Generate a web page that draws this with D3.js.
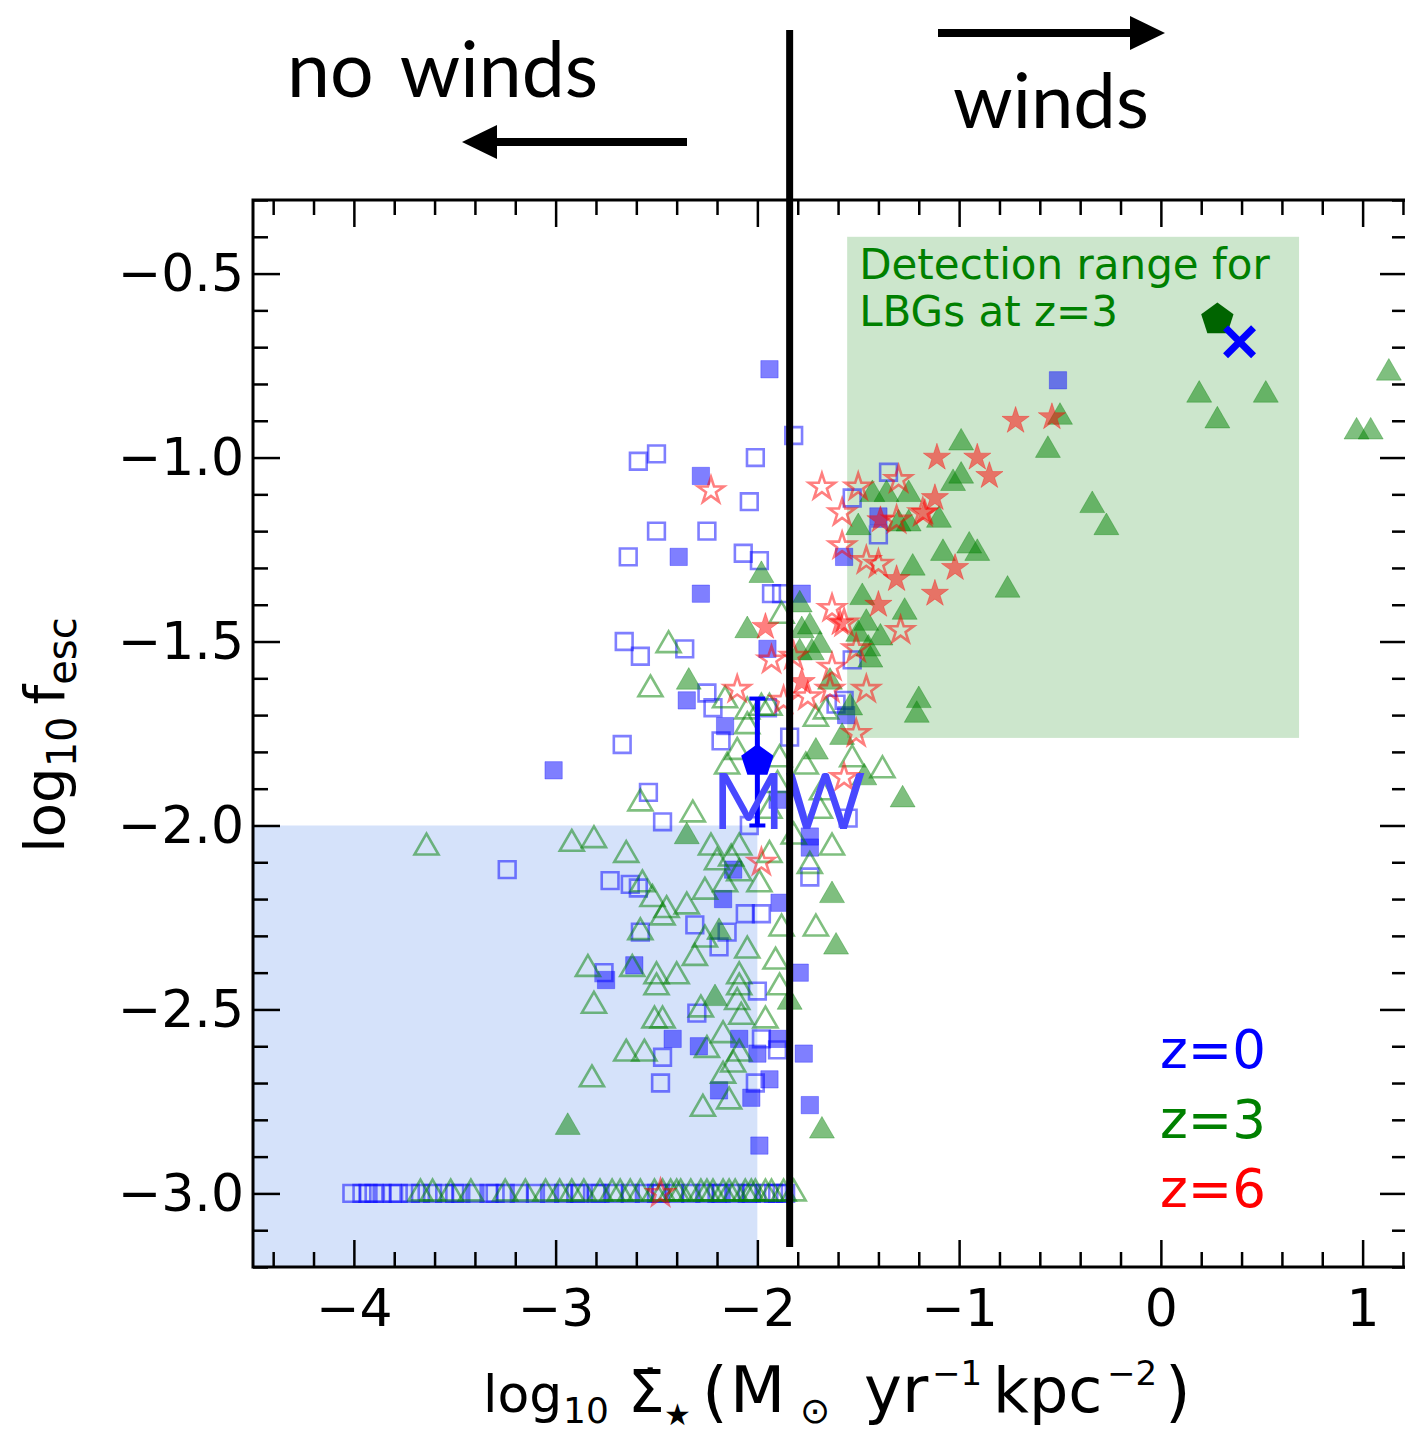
<!DOCTYPE html>
<html>
<head>
<meta charset="utf-8">
<script src="https://cdn.jsdelivr.net/npm/d3@7"></script>
<style>
body { margin: 0; background: #fff; }
</style>
</head>
<body>
<div id="chart"></div>
<script>
// ---- data: [log10 SFR surface density, log10 fesc] ----
const z0Open = [[-1.82,-0.94],[-2.59,-1.01],[-2.50,-0.99],[-2.01,-1.00],[-2.04,-1.12],[-2.50,-1.20],[-2.25,-1.20],[-2.64,-1.27],[-2.07,-1.26],[-1.99,-1.28],[-1.93,-1.37],[-1.88,-1.37],[-2.66,-1.50],[-2.58,-1.54],[-2.36,-1.52],[-2.25,-1.64],[-2.22,-1.68],[-1.95,-1.68],[-1.53,-1.55],[-1.57,-1.66],[-1.35,-1.04],[-1.53,-1.11],[-1.40,-1.21],[-2.67,-1.78],[-2.54,-1.91],[-2.47,-1.99],[-2.18,-1.77],[-2.73,-2.15],[-2.63,-2.16],[-2.59,-2.17],[-2.31,-2.27],[-2.58,-2.29],[-2.76,-2.40],[-2.00,-2.45],[-2.06,-2.24],[-1.98,-2.24],[-2.15,-2.29],[-2.19,-2.33],[-2.04,-2.00],[-1.55,-1.98],[-1.61,-1.67],[-1.84,-1.76],[-1.74,-2.14],[-3.24,-2.12],[-2.30,-2.51],[-2.48,-2.70],[-2.47,-2.63],[-2.01,-2.70],[-1.90,-2.61],[-1.98,-2.58]];
const z0Filled = [[-1.94,-0.76],[-0.51,-0.79],[-2.28,-1.05],[-2.39,-1.27],[-2.28,-1.37],[-1.78,-1.37],[-2.35,-1.66],[-1.95,-1.52],[-1.57,-1.27],[-1.40,-1.16],[-3.01,-1.85],[-2.16,-1.73],[-1.90,-1.93],[-1.74,-2.03],[-1.74,-2.06],[-1.56,-1.70],[-2.17,-2.20],[-2.12,-2.12],[-1.89,-2.21],[-2.61,-2.38],[-1.79,-2.40],[-2.42,-2.58],[-2.29,-2.60],[-2.09,-2.58],[-2.00,-2.62],[-1.90,-2.58],[-1.77,-2.62],[-1.94,-2.69],[-2.19,-2.72],[-2.03,-2.74],[-1.74,-2.76],[-1.99,-2.87],[-2.75,-2.42]];
const z3Open = [[-2.58,-1.94],[-2.32,-1.97],[-2.92,-2.05],[-2.81,-2.04],[-2.65,-2.08],[-2.52,-2.20],[-2.57,-2.16],[-2.47,-2.25],[-2.45,-2.23],[-2.26,-2.18],[-2.23,-2.06],[-2.20,-2.10],[-2.13,-2.09],[-2.09,-2.13],[-2.16,-2.16],[-2.09,-2.06],[-2.35,-2.22],[-2.58,-2.29],[-2.84,-2.39],[-2.62,-2.39],[-2.50,-2.41],[-2.40,-2.41],[-2.31,-2.36],[-2.26,-2.31],[-2.05,-2.34],[-2.09,-2.41],[-1.88,-2.28],[-1.71,-2.28],[-1.91,-2.37],[-1.63,-2.06],[-1.74,-2.11],[-1.99,-2.16],[-1.94,-2.08],[-2.05,-1.73],[-2.10,-1.80],[-2.15,-1.84],[-1.90,-1.89],[-1.94,-1.96],[-1.71,-1.71],[-1.76,-1.84],[-1.68,-1.91],[-1.89,-1.82],[-1.98,-1.68],[-1.53,-1.82],[-2.81,-2.49],[-2.51,-2.53],[-2.47,-2.53],[-2.50,-2.44],[-2.65,-2.62],[-2.56,-2.62],[-2.82,-2.69],[-2.28,-2.50],[-2.25,-2.61],[-2.17,-2.57],[-2.12,-2.65],[-2.09,-2.62],[-2.08,-2.52],[-1.96,-2.53],[-2.10,-2.48],[-2.09,-2.44],[-1.89,-2.44],[-2.27,-2.77],[-2.14,-2.75],[-2.17,-2.68],[-2.44,-1.51],[-2.53,-1.63],[-1.88,-1.43],[-2.16,-1.66],[-2.05,-1.69],[-1.94,-1.68],[-1.66,-1.69],[-3.64,-2.06],[-1.38,-1.85],[-1.82,-2.03],[-1.69,-1.96]];
const z3Filled = [[-0.50,-0.89],[-0.56,-0.98],[-0.99,-0.96],[-0.99,-1.05],[-1.03,-1.07],[-1.25,-1.10],[-1.36,-1.10],[-1.43,-1.10],[-1.10,-1.17],[-1.25,-1.18],[-1.50,-1.19],[-1.30,-1.18],[-0.95,-1.24],[-0.91,-1.26],[-1.08,-1.26],[-1.23,-1.30],[-0.76,-1.36],[-0.34,-1.13],[-0.27,-1.19],[-1.48,-1.38],[-1.27,-1.42],[-1.46,-1.45],[-1.39,-1.49],[-1.50,-1.48],[-1.44,-1.55],[-1.20,-1.66],[-1.21,-1.70],[-1.54,-1.68],[-1.69,-1.51],[-1.45,-1.52],[-1.98,-1.32],[-2.05,-1.47],[-1.79,-1.40],[-1.74,-1.46],[-1.73,-1.53],[-2.34,-1.61],[-1.79,-1.53],[-1.78,-1.47],[-1.64,-1.61],[-2.35,-2.03],[-2.19,-2.29],[-1.63,-2.19],[-1.61,-2.33],[-1.71,-1.80],[-1.58,-1.76],[-2.21,-2.47],[-2.94,-2.82],[-1.68,-2.83],[-1.84,-2.48],[-1.28,-1.93],[-1.47,-1.87],[0.19,-0.83],[0.28,-0.90],[0.52,-0.83],[0.97,-0.93],[1.04,-0.93],[1.13,-0.77]];
const z6Open = [[-1.50,-1.08],[-1.30,-1.06],[-1.68,-1.08],[-1.58,-1.15],[-1.31,-1.17],[-1.18,-1.15],[-1.58,-1.24],[-1.46,-1.28],[-1.40,-1.29],[-1.63,-1.41],[-1.51,-1.52],[-1.46,-1.63],[-1.63,-1.57],[-1.29,-1.47],[-2.23,-1.09],[-1.57,-1.45],[-1.93,-1.55],[-2.10,-1.63],[-1.75,-1.65],[-1.51,-1.75],[-1.57,-1.87],[-1.98,-2.10],[-2.48,-3.00],[-1.82,-1.54],[-1.87,-1.66],[-1.64,-1.63]];
const z6Filled = [[-0.72,-0.90],[-0.54,-0.89],[-1.11,-1.00],[-0.91,-1.00],[-0.85,-1.05],[-1.12,-1.11],[-1.17,-1.15],[-1.39,-1.17],[-1.02,-1.30],[-1.12,-1.37],[-1.40,-1.40],[-1.59,-1.45],[-1.31,-1.33],[-1.96,-1.46],[-1.78,-1.61]];

// galaxies stuck at the fesc floor (log10 fesc = -3)
const fescFloor = -3.0;
const z0FloorX = [-4.01,-3.96,-3.93,-3.90,-3.86,-3.81,-3.78,-3.72,-3.67,-3.61,-3.55,-3.50,-3.47,-3.40,-3.33,-3.30,-3.25,-3.18,-3.10,-3.03,-2.96,-2.90,-2.88,-2.80,-2.78,-2.71,-2.63,-2.56,-2.50,-2.48,-2.41,-2.33,-2.26,-2.20,-2.18,-2.11,-2.05,-2.03,-1.96,-1.92,-1.90,-1.86];
const z3FloorX = [-3.67,-3.61,-3.52,-3.42,-3.25,-3.15,-3.05,-2.98,-2.92,-2.86,-2.78,-2.72,-2.68,-2.63,-2.58,-2.51,-2.47,-2.43,-2.40,-2.38,-2.33,-2.28,-2.25,-2.22,-2.17,-2.14,-2.11,-2.06,-2.03,-2.01,-1.96,-1.93,-1.87,-1.82];

// Milky Way and LBG reference points
const mwPoint = [-2.0, -1.825];
const mwErr = [-1.655, -2.0];
const lbgPentagon = [0.28, -0.625];
const lbgCross = [0.39, -0.685];

// shaded regions [x0, x1, y0, y1]
const noDetectBox = [-4.5, -2.0, -3.2, -2.0];
const lbgBox = [-1.555, 0.685, -1.762, -0.40];
const windThreshold = -1.84;

const xTicks = [-4, -3, -2, -1, 0, 1];
const yTicks = [-3.0, -2.5, -2.0, -1.5, -1.0, -0.5];
const legendLabels = ['z=0', 'z=3', 'z=6'];
const legendColours = ['#0000ff', '#008000', '#ff0000'];

// ---- layout ----
const width = 1405;
const height = 1435;
const plotLeft = 253, plotRight = 1407, plotTop = 200, plotBottom = 1267;

const svg = d3.select('#chart').append('svg')
    .attr('width', width)
    .attr('height', height)
    .style('background', '#fff');

const x = d3.scaleLinear().domain([-4.5, 1.22]).range([plotLeft, plotRight]);
const y = d3.scaleLinear().domain([-3.2, -0.3]).range([plotBottom, plotTop]);

svg.append('clipPath').attr('id', 'plotclip')
    .append('rect')
    .attr('x', plotLeft).attr('y', plotTop)
    .attr('width', plotRight - plotLeft).attr('height', plotBottom - plotTop);

const g = svg.append('g').attr('clip-path', 'url(#plotclip)');

// shaded boxes
g.append('rect')
    .attr('x', x(noDetectBox[0])).attr('y', y(noDetectBox[3]))
    .attr('width', x(noDetectBox[1]) - x(noDetectBox[0]))
    .attr('height', y(noDetectBox[2]) - y(noDetectBox[3]))
    .attr('fill', 'cornflowerblue').attr('fill-opacity', 0.27);

g.append('rect')
    .attr('x', x(lbgBox[0])).attr('y', y(lbgBox[3]))
    .attr('width', x(lbgBox[1]) - x(lbgBox[0]))
    .attr('height', y(lbgBox[2]) - y(lbgBox[3]))
    .attr('fill', 'green').attr('fill-opacity', 0.2);

g.append('text')
    .attr('x', x(lbgBox[0]) + 12)
    .attr('y', y(lbgBox[3]) + 42)
    .attr('font-family', 'DejaVu Sans')
    .attr('font-size', 42)
    .attr('fill', '#008000')
    .selectAll('tspan')
    .data(['Detection range for', 'LBGs at z=3'])
    .enter().append('tspan')
        .attr('x', x(lbgBox[0]) + 12)
        .attr('dy', (d, i) => i === 0 ? 0 : 47)
        .text(d => d);

// scatter series
function drawSeries(data, symbolType, size, colour, filled) {
    g.append('g').selectAll('path')
        .data(data)
        .enter()
        .append('path')
            .attr('d', d3.symbol().type(symbolType).size(size))
            .attr('transform', d => `translate(${x(d[0])},${y(d[1])})`)
            .attr('fill', filled ? colour : 'none')
            .attr('fill-opacity', 0.5)
            .attr('stroke', colour)
            .attr('stroke-opacity', filled ? 0.3 : 0.5)
            .attr('stroke-width', filled ? 1 : 2.6);
}

const floor0 = z0FloorX.map(v => [v, fescFloor]);
const floor3 = z3FloorX.map(v => [v, fescFloor]);

drawSeries(z0Open.concat(floor0), d3.symbolSquare, 280, 'blue', false);
drawSeries(z0Filled, d3.symbolSquare, 300, 'blue', true);
drawSeries(z3Open.concat(floor3), d3.symbolTriangle, 250, 'green', false);
drawSeries(z3Filled, d3.symbolTriangle, 270, 'green', true);
drawSeries(z6Open, d3.symbolStar, 210, 'red', false);
drawSeries(z6Filled, d3.symbolStar, 230, 'red', true);

function pentagon(r) {
    const pts = d3.range(5).map(k => {
        const a = -Math.PI / 2 + k * 2 * Math.PI / 5;
        return [r * Math.cos(a), r * Math.sin(a)];
    });
    return 'M' + pts.map(p => p.join(',')).join('L') + 'Z';
}

// Milky Way error bar and marker
const mwx = x(mwPoint[0]);
g.append('line')
    .attr('x1', mwx).attr('x2', mwx)
    .attr('y1', y(mwErr[0])).attr('y2', y(mwErr[1]))
    .attr('stroke', 'blue').attr('stroke-width', 5);
mwErr.forEach(v => {
    g.append('line')
        .attr('x1', mwx - 8).attr('x2', mwx + 8)
        .attr('y1', y(v)).attr('y2', y(v))
        .attr('stroke', 'blue').attr('stroke-width', 4);
});
g.append('path')
    .attr('d', pentagon(17))
    .attr('transform', `translate(${mwx},${y(mwPoint[1])})`)
    .attr('fill', 'blue');

g.append('text')
    .attr('x', mwx - 45)
    .attr('y', y(mwPoint[1]) + 68)
    .attr('font-family', 'Lato')
    .attr('font-size', 78)
    .attr('fill', '#4848ff')
    .text('MW');

// LBG markers
g.append('path')
    .attr('d', pentagon(17))
    .attr('transform', `translate(${x(lbgPentagon[0])},${y(lbgPentagon[1])})`)
    .attr('fill', '#006400');

const cx = x(lbgCross[0]), cy = y(lbgCross[1]), arm = 14;
g.append('path')
    .attr('d', `M${cx - arm},${cy - arm}L${cx + arm},${cy + arm}M${cx - arm},${cy + arm}L${cx + arm},${cy - arm}`)
    .attr('stroke', 'blue').attr('stroke-width', 7);

// redshift labels
svg.append('g').selectAll('text')
    .data(legendLabels)
    .enter()
    .append('text')
        .attr('x', 1160)
        .attr('y', (d, i) => 1068 + i * 69.5)
        .attr('font-family', 'DejaVu Sans')
        .attr('font-size', 53)
        .attr('fill', (d, i) => legendColours[i])
        .text(d => d);

// axes: ticks inward on all four sides
const xMinor = d3.range(-4.4, 1.25, 0.2).filter(v => Math.abs(v - Math.round(v)) > 1e-6);
const yMinor = d3.range(-3.2, -0.29, 0.1).filter(v => Math.abs(v * 2 - Math.round(v * 2)) > 1e-6);

function styleAxis(sel) {
    sel.select('.domain').remove();
    sel.selectAll('line').attr('stroke', '#000').attr('stroke-width', 2.5);
    sel.attr('font-family', 'DejaVu Sans').attr('font-size', 52);
    sel.selectAll('text').attr('fill', '#000');
}

svg.append('g').attr('transform', `translate(0,${plotBottom})`)
    .call(d3.axisBottom(x).tickValues(xTicks).tickFormat(d3.format('d')).tickSizeInner(-27).tickSizeOuter(0).tickPadding(22))
    .call(styleAxis);
svg.append('g').attr('transform', `translate(0,${plotBottom})`)
    .call(d3.axisBottom(x).tickValues(xMinor).tickFormat('').tickSizeInner(-15).tickSizeOuter(0))
    .call(styleAxis);
svg.append('g').attr('transform', `translate(0,${plotTop})`)
    .call(d3.axisTop(x).tickValues(xTicks).tickFormat('').tickSizeInner(-27).tickSizeOuter(0))
    .call(styleAxis);
svg.append('g').attr('transform', `translate(0,${plotTop})`)
    .call(d3.axisTop(x).tickValues(xMinor).tickFormat('').tickSizeInner(-15).tickSizeOuter(0))
    .call(styleAxis);

svg.append('g').attr('transform', `translate(${plotLeft},0)`)
    .call(d3.axisLeft(y).tickValues(yTicks).tickFormat(d3.format('.1f')).tickSizeInner(-27).tickSizeOuter(0).tickPadding(9))
    .call(styleAxis);
svg.append('g').attr('transform', `translate(${plotLeft},0)`)
    .call(d3.axisLeft(y).tickValues(yMinor).tickFormat('').tickSizeInner(-15).tickSizeOuter(0))
    .call(styleAxis);
svg.append('g').attr('transform', `translate(${plotRight},0)`)
    .call(d3.axisRight(y).tickValues(yTicks).tickFormat('').tickSizeInner(-27).tickSizeOuter(0))
    .call(styleAxis);
svg.append('g').attr('transform', `translate(${plotRight},0)`)
    .call(d3.axisRight(y).tickValues(yMinor).tickFormat('').tickSizeInner(-15).tickSizeOuter(0))
    .call(styleAxis);

// frame
svg.append('rect')
    .attr('x', plotLeft).attr('y', plotTop)
    .attr('width', plotRight - plotLeft).attr('height', plotBottom - plotTop)
    .attr('fill', 'none').attr('stroke', '#000').attr('stroke-width', 3);

// axis titles
const titleBase = 1412;
const xTitleParts = [
    { t: 'log', x: 483, dy: 0, fs: 52 },
    { t: '10', x: 563, dy: 11, fs: 36 },
    { t: '\u03A3\u0307', x: 628, dy: 0, fs: 58 },
    { t: '\u2605', x: 664, dy: 13, fs: 30 },
    { t: '(', x: 702, dy: 2, fs: 66 },
    { t: 'M', x: 730, dy: 0, fs: 64 },
    { t: '\u2299', x: 800, dy: 11, fs: 36 },
    { t: 'yr', x: 864, dy: 0, fs: 64 },
    { t: '\u22121', x: 932, dy: -27, fs: 34 },
    { t: 'kpc', x: 993, dy: 0, fs: 62 },
    { t: '\u22122', x: 1107, dy: -27, fs: 34 },
    { t: ')', x: 1165, dy: 2, fs: 66 }
];
svg.append('text')
    .attr('font-family', 'DejaVu Sans')
    .attr('fill', '#000')
    .selectAll('tspan')
    .data(xTitleParts)
    .enter().append('tspan')
        .attr('x', d => d.x)
        .attr('y', d => titleBase + d.dy)
        .attr('font-size', d => d.fs)
        .text(d => d.t);

const yTitle = svg.append('text')
    .attr('transform', 'translate(64,735) rotate(-90)')
    .attr('text-anchor', 'middle')
    .attr('font-family', 'DejaVu Sans')
    .attr('font-size', 56)
    .attr('fill', '#000');
yTitle.append('tspan').text('log');
yTitle.append('tspan').attr('dy', 12).attr('font-size', 40).text('10');
yTitle.append('tspan').attr('dy', -12).attr('dx', 12).text('f');
yTitle.append('tspan').attr('dy', 12).attr('font-size', 40).text('esc');

// wind threshold line and annotations
svg.append('line')
    .attr('x1', x(windThreshold)).attr('x2', x(windThreshold))
    .attr('y1', 30).attr('y2', 1247)
    .attr('stroke', '#000').attr('stroke-width', 7);

svg.append('text')
    .attr('x', 287).attr('y', 97)
    .attr('font-family', 'Lato')
    .attr('font-size', 77)
    .attr('word-spacing', 8)
    .attr('fill', '#000')
    .text('no winds');
svg.append('text')
    .attr('x', 953).attr('y', 128)
    .attr('font-family', 'Lato')
    .attr('font-size', 76)
    .attr('fill', '#000')
    .text('winds');

// arrows
svg.append('line').attr('x1', 687).attr('x2', 495).attr('y1', 142).attr('y2', 142)
    .attr('stroke', '#000').attr('stroke-width', 8);
svg.append('path').attr('d', 'M462,142L497,125L497,159Z').attr('fill', '#000');
svg.append('line').attr('x1', 938).attr('x2', 1132).attr('y1', 33).attr('y2', 33)
    .attr('stroke', '#000').attr('stroke-width', 8);
svg.append('path').attr('d', 'M1165,33L1130,16L1130,50Z').attr('fill', '#000');
</script>
</body>
</html>
